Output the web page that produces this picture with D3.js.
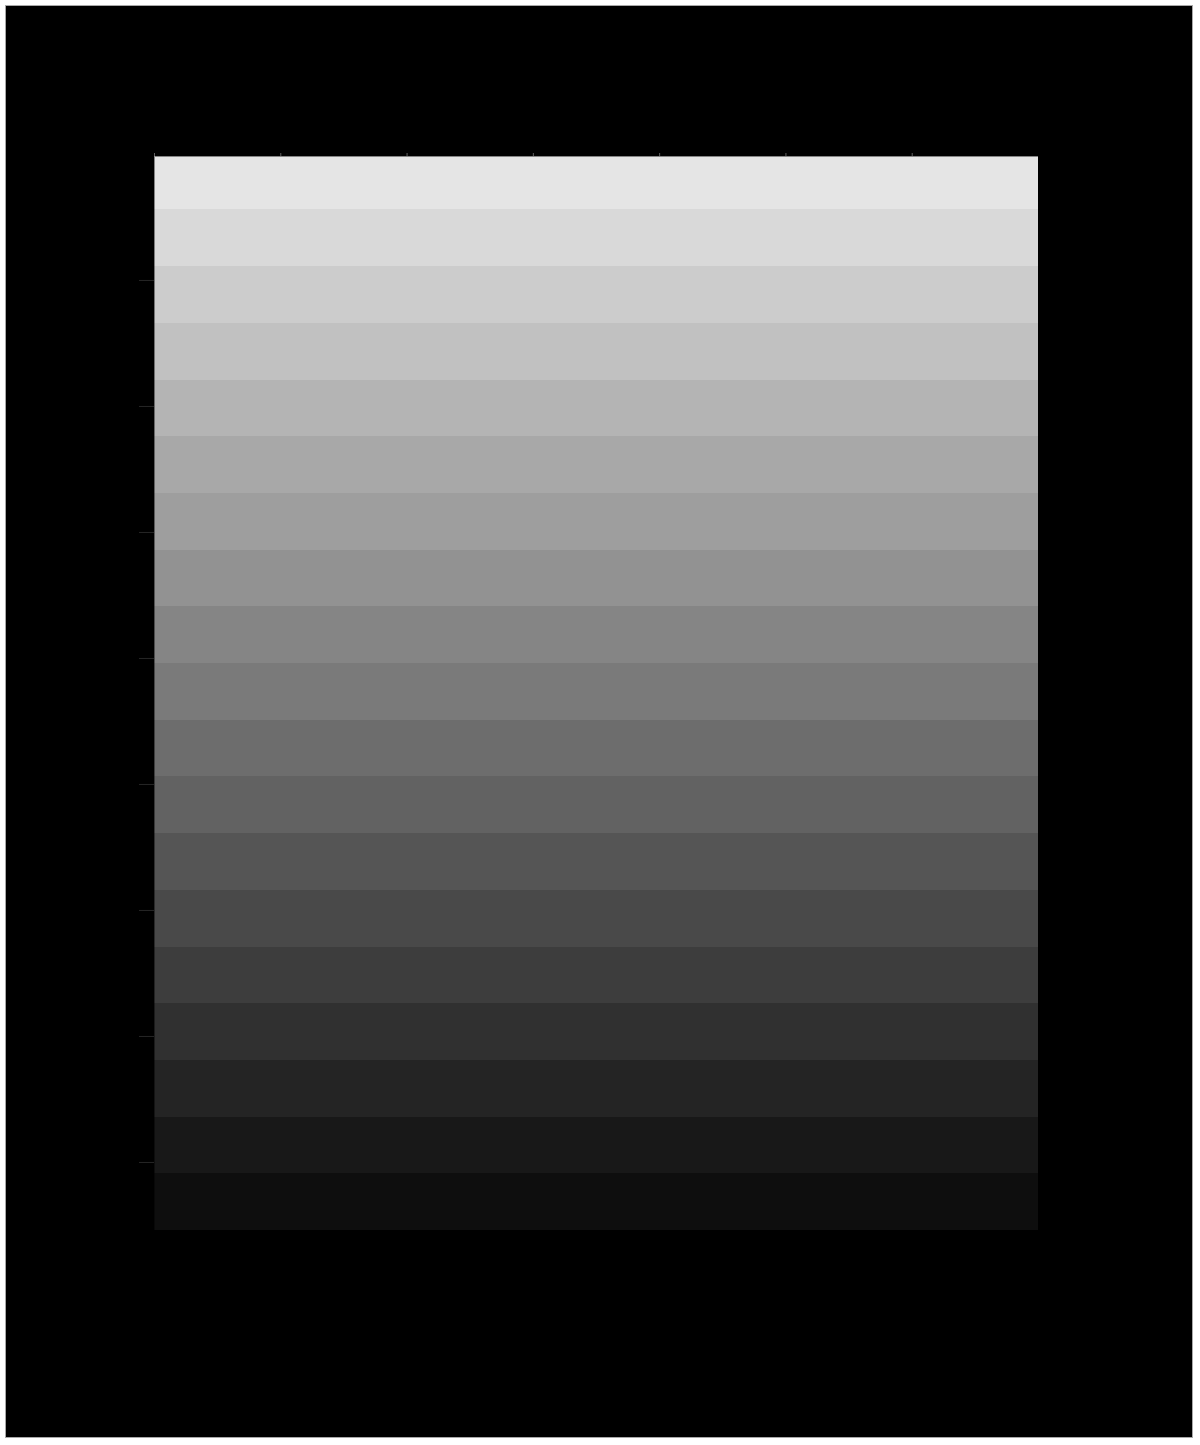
<!DOCTYPE html>
<html>
<head>
<meta charset="utf-8">
<script src="https://cdn.jsdelivr.net/npm/d3@7"></script>
<style>
  html, body { margin: 0; padding: 0; background: #ffffff; }
  svg { display: block; }
</style>
</head>
<body>
<div id="chart"></div>
<script>
// ---- data ----
// grey level of each horizontal band, listed from the bottom band upwards
const bandGreys = [14, 24, 36, 48, 61, 73, 85, 98, 109, 122, 133, 146, 158, 168, 180, 193, 204, 217, 229];
const bandStart = -0.54;     // data value of the bottom edge of the lowest band
const bandStep = 0.45;       // data height of one band
const xTicks = [0, 1, 2, 3, 4, 5, 6];
const yTicks = [0, 1, 2, 3, 4, 5, 6, 7];
const xDomain = [0, 7];
const yDomain = [-0.54, 7.984];

// ---- layout ----
const W = 1200, H = 1445;
const frame = { x: 5.5, y: 5.5, w: 1187, h: 1432 };
const plot = { left: 154, top: 156, right: 1038, bottom: 1230 };

const svg = d3.select("#chart").append("svg")
  .attr("width", W).attr("height", H)
  .attr("viewBox", `0 0 ${W} ${H}`);

svg.append("rect")
  .attr("x", frame.x).attr("y", frame.y)
  .attr("width", frame.w).attr("height", frame.h)
  .attr("fill", "#000").attr("stroke", "#a8a8a8").attr("stroke-width", 1);

const x = d3.scaleLinear().domain(xDomain).range([plot.left, plot.right]);
const y = d3.scaleLinear().domain(yDomain).range([plot.bottom, plot.top]);

svg.append("defs").append("clipPath").attr("id", "plotclip")
  .append("rect")
  .attr("x", plot.left).attr("y", plot.top)
  .attr("width", plot.right - plot.left).attr("height", plot.bottom - plot.top);

const bands = bandGreys.map((g, i) => ({
  g,
  y0: bandStart + i * bandStep,
  y1: bandStart + (i + 1) * bandStep
}));

svg.append("g").attr("clip-path", "url(#plotclip)")
  .selectAll("rect").data(bands).join("rect")
  .attr("x", x(xDomain[0]))
  .attr("width", x(xDomain[1]) - x(xDomain[0]))
  .attr("y", d => y(d.y1))
  .attr("height", d => y(d.y0) - y(d.y1))
  .attr("fill", d => d3.rgb(d.g, d.g, d.g))
  .attr("shape-rendering", "crispEdges");

// top axis
const gx = svg.append("g")
  .attr("transform", `translate(0,${plot.top})`)
  .call(d3.axisTop(x).tickValues(xTicks).tickSize(3).tickSizeOuter(0).tickFormat(""));
gx.select(".domain").attr("stroke", "#000").attr("stroke-opacity", 0.42);
gx.selectAll(".tick line").attr("stroke", "#5f5f5f");

// left axis
const gy = svg.append("g")
  .attr("transform", `translate(${plot.left},0)`)
  .call(d3.axisLeft(y).tickValues(yTicks).tickSize(15).tickSizeOuter(0).tickFormat(""));
gy.select(".domain").attr("stroke", "#000").attr("stroke-opacity", 0.42);
gy.selectAll(".tick line").attr("stroke", "#262626");
</script>
</body>
</html>
